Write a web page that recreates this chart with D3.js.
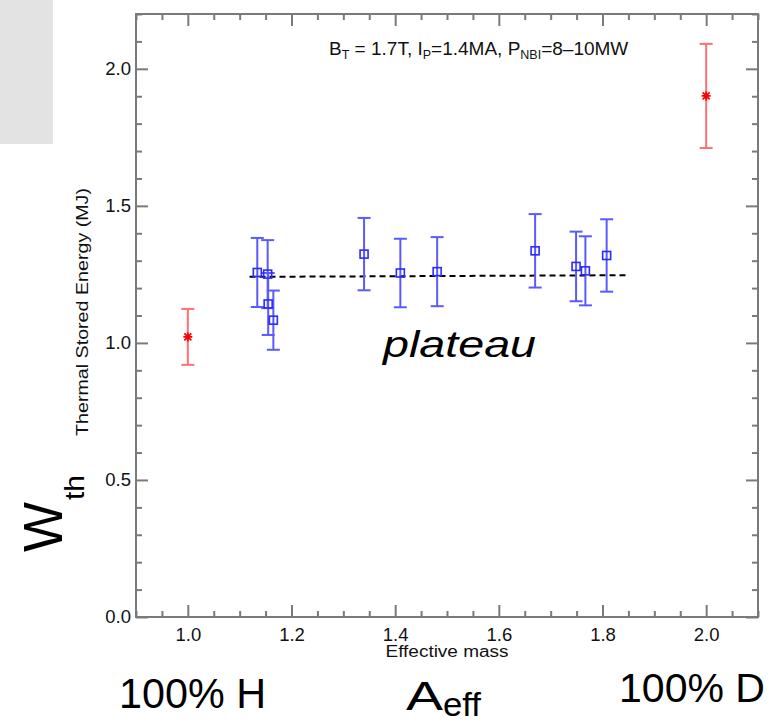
<!DOCTYPE html>
<html><head><meta charset="utf-8">
<script src="https://cdn.jsdelivr.net/npm/d3@7"></script>
<style>
html,body{margin:0;padding:0;background:#fff;}
svg text{font-family:"Liberation Sans",Arial,Helvetica,sans-serif;}
</style></head>
<body>
<svg id="c" width="769" height="725"></svg>
<script>
// ---- data ----
const blueX   = [1.134, 1.154, 1.155, 1.165, 1.340, 1.410, 1.481, 1.670, 1.749, 1.767, 1.808];
const blueY   = [1.257, 1.251, 1.142, 1.083, 1.324, 1.255, 1.260, 1.336, 1.279, 1.263, 1.319];
const blueErr = [0.126, 0.124, 0.113, 0.108, 0.132, 0.125, 0.126, 0.134, 0.127, 0.126, 0.132];
const redX    = [1.0, 2.0];
const redY    = [1.022, 1.901];
const redErr  = [0.102, 0.190];
const fitX    = [1.119, 1.851];
const fitY    = [1.241, 1.247];
const xMajor  = [1.0, 1.2, 1.4, 1.6, 1.8, 2.0];
const yMajor  = [0.0, 0.5, 1.0, 1.5, 2.0];
const xDomain = [0.9, 2.1];
const yDomain = [0, 2.2];

const svg = d3.select("#c");
const L = 136, R = 758, T = 14, B = 617;
const x = d3.scaleLinear(xDomain, [L, R]);
const y = d3.scaleLinear(yDomain, [B, T]);
const axisCol = "#7a7a7a";

// gray box top-left
svg.append("rect").attr("x",0).attr("y",0).attr("width",53).attr("height",144).attr("fill","#e3e3e3");

const xMinor = d3.range(0.9, 2.1001, 0.05).map(v=>+v.toFixed(2)).filter(v=>!xMajor.some(m=>Math.abs(m-v)<1e-6));
const yMinor = d3.range(0, 2.2001, 0.1).map(v=>+v.toFixed(2)).filter(v=>!yMajor.some(m=>Math.abs(m-v)<1e-6));

function styleAxis(g){
  g.select(".domain").remove();
  g.selectAll(".tick line").attr("stroke",axisCol).attr("stroke-width",2);
  g.selectAll(".tick text").attr("fill","#111").style("font-size","18.5px");
}
// bottom
svg.append("g").attr("transform",`translate(0,${B})`)
  .call(d3.axisBottom(x).tickValues(xMajor).tickSize(-12).tickPadding(11).tickFormat(d3.format(".1f"))).call(styleAxis);
svg.append("g").attr("transform",`translate(0,${B})`)
  .call(d3.axisBottom(x).tickValues(xMinor).tickSize(-6).tickFormat("")).call(styleAxis);
// top
svg.append("g").attr("transform",`translate(0,${T})`)
  .call(d3.axisTop(x).tickValues(xMajor).tickSize(-12).tickFormat("")).call(styleAxis);
svg.append("g").attr("transform",`translate(0,${T})`)
  .call(d3.axisTop(x).tickValues(xMinor).tickSize(-6).tickFormat("")).call(styleAxis);
// left
svg.append("g").attr("transform",`translate(${L},0)`)
  .call(d3.axisLeft(y).tickValues(yMajor).tickSize(-12).tickPadding(5).tickFormat(d3.format(".1f"))).call(styleAxis);
svg.append("g").attr("transform",`translate(${L},0)`)
  .call(d3.axisLeft(y).tickValues(yMinor).tickSize(-6).tickFormat("")).call(styleAxis);
// right
svg.append("g").attr("transform",`translate(${R},0)`)
  .call(d3.axisRight(y).tickValues(yMajor).tickSize(-12).tickFormat("")).call(styleAxis);
svg.append("g").attr("transform",`translate(${R},0)`)
  .call(d3.axisRight(y).tickValues(yMinor).tickSize(-6).tickFormat("")).call(styleAxis);

// frame
svg.append("rect").attr("x",L).attr("y",T).attr("width",R-L).attr("height",B-T)
  .attr("fill","none").attr("stroke",axisCol).attr("stroke-width",2);

// fit line
svg.append("line").attr("x1",x(fitX[0])).attr("y1",y(fitY[0])).attr("x2",x(fitX[1])).attr("y2",y(fitY[1]))
  .attr("stroke","#000").attr("stroke-width",2).attr("stroke-dasharray","6,4");

// error bars
function errBars(xs, ys, es, col){
  const g = svg.append("g").attr("stroke",col).attr("stroke-width",2).attr("fill","none");
  xs.forEach((xv,i)=>{
    const cx = x(xv), t = y(ys[i]+es[i]), b = y(ys[i]-es[i]);
    g.append("line").attr("x1",cx).attr("x2",cx).attr("y1",t).attr("y2",b);
    g.append("line").attr("x1",cx-6.5).attr("x2",cx+6.5).attr("y1",t).attr("y2",t);
    g.append("line").attr("x1",cx-6.5).attr("x2",cx+6.5).attr("y1",b).attr("y2",b);
  });
}
errBars(blueX, blueY, blueErr, "#5a5aff");
errBars(redX, redY, redErr, "#ff7070");

// blue squares
svg.append("g").selectAll("rect").data(blueX).join("rect")
  .attr("x",(d)=>x(d)-4).attr("y",(d,i)=>y(blueY[i])-4).attr("width",8).attr("height",8)
  .attr("fill","none").attr("stroke","#2a2aff").attr("stroke-width",1.6);

// red asterisks
const ast = "M-4.5,0H4.5M0,-4.5V4.5M-3.5,-3.5L3.5,3.5M-3.5,3.5L3.5,-3.5";
svg.append("g").selectAll("path").data(redX).join("path")
  .attr("transform",(d,i)=>`translate(${x(d)},${y(redY[i])})`)
  .attr("d",ast).attr("stroke","#ff0000").attr("stroke-width",1.8).attr("fill","none");

// title
const title = svg.append("text").attr("x",329).attr("y",55).style("font-size","19px").attr("fill","#111");
title.append("tspan").text("B");
title.append("tspan").attr("dy",4).style("font-size","12.5px").text("T");
title.append("tspan").attr("dy",-4).text(" = 1.7T, I");
title.append("tspan").attr("dy",4).style("font-size","12.5px").text("P");
title.append("tspan").attr("dy",-4).text("=1.4MA, P");
title.append("tspan").attr("dy",4).style("font-size","12.5px").text("NBI");
title.append("tspan").attr("dy",-4).text("=8\u201310MW");

// axis titles
svg.append("text").attr("x",447).attr("y",657).attr("text-anchor","middle")
  .style("font-size","16px").attr("textLength",123).attr("lengthAdjust","spacingAndGlyphs").attr("fill","#111").text("Effective mass");
svg.append("text").attr("transform",`translate(88,312) rotate(-90)`).attr("text-anchor","middle")
  .style("font-size","17px").attr("textLength",248).attr("lengthAdjust","spacingAndGlyphs").attr("fill","#111").text("Thermal Stored Energy (MJ)");

// annotations
svg.append("text").attr("x",383).attr("y",357).style("font-size","37px").style("font-style","italic")
  .attr("textLength",153).attr("lengthAdjust","spacingAndGlyphs").attr("fill","#000").text("plateau");
svg.append("text").attr("x",119).attr("y",708).style("font-size","42px")
  .attr("textLength",147).attr("lengthAdjust","spacingAndGlyphs").attr("fill","#000").text("100% H");
svg.append("text").attr("x",619).attr("y",702).style("font-size","41px")
  .attr("textLength",146).attr("lengthAdjust","spacingAndGlyphs").attr("fill","#000").text("100% D");
svg.append("text").attr("x",406).attr("y",710).style("font-size","40px")
  .attr("textLength",37).attr("lengthAdjust","spacingAndGlyphs").attr("fill","#000").text("A");
svg.append("text").attr("x",443).attr("y",716).style("font-size","34px")
  .attr("textLength",38).attr("lengthAdjust","spacingAndGlyphs").attr("fill","#000").text("eff");
svg.append("text").attr("transform",`translate(62,552) rotate(-90)`).style("font-size","56px")
  .attr("textLength",50).attr("lengthAdjust","spacingAndGlyphs").attr("fill","#000").text("W");
svg.append("text").attr("transform",`translate(84,500) rotate(-90)`).style("font-size","27px")
  .attr("textLength",25).attr("lengthAdjust","spacingAndGlyphs").attr("fill","#000").text("th");
</script>
</body></html>
